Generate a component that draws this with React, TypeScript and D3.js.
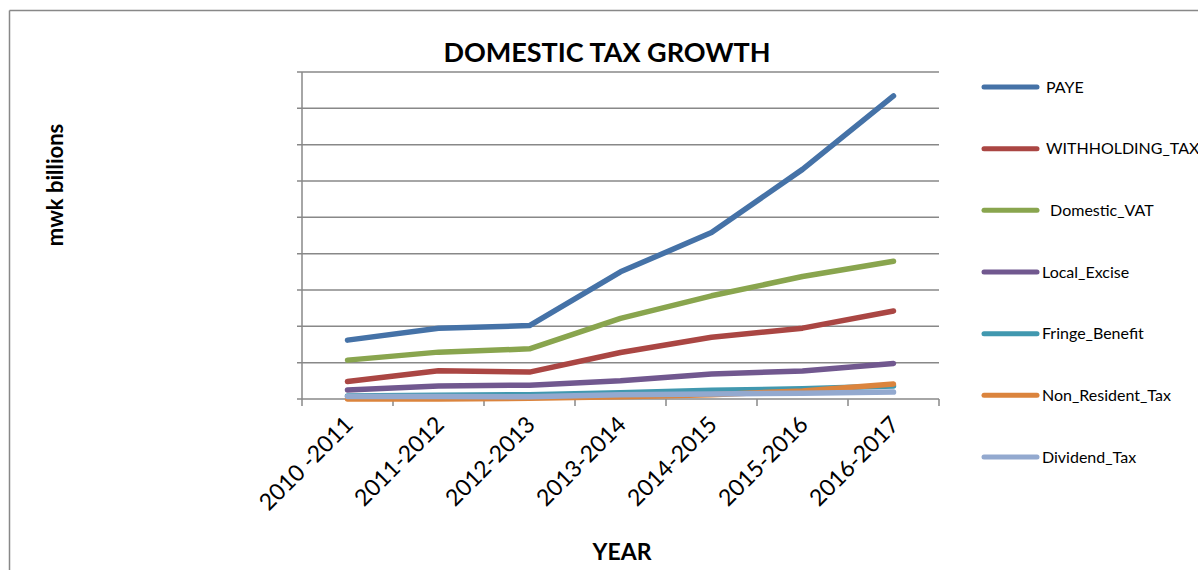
import React from "react";
import * as d3 from "d3";

const categories = ["2010 -2011", "2011-2012", "2012-2013", "2013-2014", "2014-2015", "2015-2016", "2016-2017"];
const seriesNames = ["PAYE", "WITHHOLDING_TAX", " Domestic_VAT", "Local_Excise", "Fringe_Benefit", "Non_Resident_Tax", "Dividend_Tax"];
const paye = [1.62, 1.95, 2.02, 3.5, 4.58, 6.32, 8.34];
const withholding = [0.48, 0.78, 0.74, 1.28, 1.7, 1.95, 2.42];
const domesticVat = [1.07, 1.29, 1.38, 2.22, 2.84, 3.37, 3.79];
const localExcise = [0.25, 0.36, 0.38, 0.5, 0.69, 0.77, 0.98];
const fringeBenefit = [0.08, 0.1, 0.12, 0.17, 0.24, 0.28, 0.36];
const nonResident = [0.0, 0.0, 0.02, 0.06, 0.12, 0.22, 0.41];
const dividend = [0.07, 0.07, 0.06, 0.12, 0.14, 0.16, 0.19];
const yTicks = [0, 1, 2, 3, 4, 5, 6, 7, 8, 9];
const colors = ["#4572A7", "#AA4643", "#89A54E", "#71588F", "#4198AF", "#DB843D", "#93A9CF"];

const seriesValues = [paye, withholding, domesticVat, localExcise, fringeBenefit, nonResident, dividend];

const W = 1198;
const H = 570;
const plot = { left: 302, right: 939, top: 72, bottom: 399 };
const FONT = "Lato, 'Open Sans', sans-serif";

export default function App() {
  const x = d3.scaleBand<string>().domain(categories).range([plot.left, plot.right]).padding(0);
  const y = d3.scaleLinear().domain([0, 9]).range([plot.bottom, plot.top]);
  const cx = (c: string) => (x(c) as number) + x.bandwidth() / 2;
  const line = d3
    .line<number>()
    .x((_, i) => cx(categories[i]))
    .y((d) => y(d));
  const boundaries = categories.map((c) => x(c) as number).concat([plot.right]);
  const legendY = d3.scaleLinear().domain([0, 6]).range([87, 457]);
  const grid = "#888888";

  const drawOrder = [0, 1, 2, 3, 4, 5, 6];

  return (
    <div>
      <style>{"body{margin:0}"}</style>
      <svg width={W} height={H} style={{ display: "block", background: "#fff" }}>
        {/* chart border */}
        <line x1={9.5} y1={10.5} x2={W} y2={10.5} stroke={grid} strokeWidth={1.5} />
        <line x1={9.5} y1={10.5} x2={9.5} y2={H} stroke={grid} strokeWidth={1.5} />

        <text x={607} y={62} textAnchor="middle" fontFamily={FONT} fontWeight={700} fontSize={27} fill="#000">
          DOMESTIC TAX GROWTH
        </text>

        {/* gridlines */}
        {yTicks.map((t) => (
          <line key={"g" + t} x1={plot.left - 5} x2={plot.right} y1={y(t)} y2={y(t)} stroke={grid} strokeWidth={1.5} />
        ))}
        {/* y axis */}
        <line x1={plot.left} x2={plot.left} y1={plot.top} y2={plot.bottom} stroke={grid} strokeWidth={1.5} />
        {/* x ticks */}
        {boundaries.map((b, i) => (
          <line key={"xt" + i} x1={b} x2={b} y1={plot.bottom} y2={plot.bottom + 7} stroke={grid} strokeWidth={1.5} />
        ))}

        {/* series */}
        {drawOrder.map((si) => (
          <path
            key={"s" + si}
            d={line(seriesValues[si]) || ""}
            fill="none"
            stroke={colors[si]}
            strokeWidth={5.5}
            strokeLinecap="round"
            strokeLinejoin="round"
          />
        ))}

        {/* x tick labels */}
        {categories.map((c) => (
          <text
            key={"xl" + c}
            transform={`translate(${cx(c) - 6},${plot.bottom + 14}) rotate(-45)`}
            textAnchor="end"
            dominantBaseline="hanging"
            fontFamily={FONT}
            fontSize={23}
            fill="#000"
            style={{ whiteSpace: "pre" }}
          >
            {c}
          </text>
        ))}

        {/* axis titles */}
        <text x={622} y={560} textAnchor="middle" fontFamily={FONT} fontWeight={700} fontSize={23} fill="#000">
          YEAR
        </text>
        <text
          transform={`translate(63,185) rotate(-90)`}
          textAnchor="middle"
          fontFamily={FONT}
          fontWeight={700}
          fontSize={22}
          fill="#000"
        >
          mwk billions
        </text>

        {/* legend */}
        {seriesNames.map((n, i) => (
          <g key={"lg" + i}>
            <line
              x1={984}
              x2={1037}
              y1={legendY(i)}
              y2={legendY(i)}
              stroke={colors[i]}
              strokeWidth={5}
              strokeLinecap="round"
            />
            <text
              x={i < 3 ? 1046 : 1042}
              y={legendY(i) + 5.5}
              fontFamily={FONT}
              fontSize={16}
              fill="#000"
              style={{ whiteSpace: "pre" }}
            >
              {n}
            </text>
          </g>
        ))}
      </svg>
    </div>
  );
}
